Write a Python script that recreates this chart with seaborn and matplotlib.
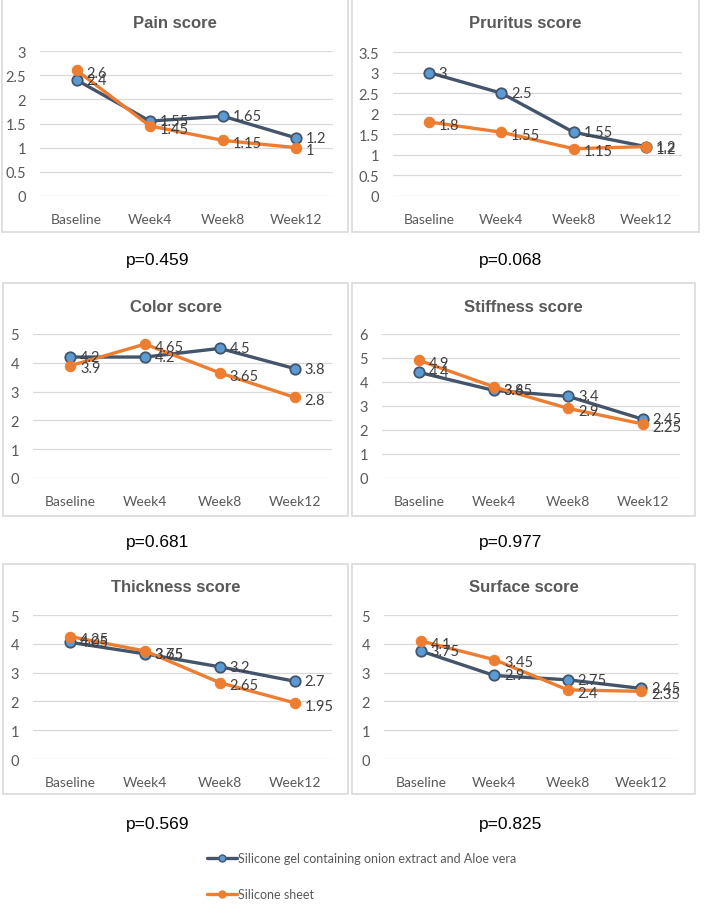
import matplotlib
matplotlib.use("Agg")
import matplotlib.pyplot as plt
import seaborn as sns
from matplotlib.patches import Rectangle
from matplotlib.lines import Line2D

visits = ["Baseline", "Week4", "Week8", "Week12"]
groups = ["Silicone gel containing onion extract and Aloe vera", "Silicone sheet"]

titles = ["Pain score", "Pruritus score", "Color score",
          "Stiffness score", "Thickness score", "Surface score"]
p_values = ["p=0.459", "p=0.068", "p=0.681", "p=0.977", "p=0.569", "p=0.825"]

gel_pain = [2.4, 1.55, 1.65, 1.2]
sheet_pain = [2.6, 1.45, 1.15, 1]
gel_pruritus = [3, 2.5, 1.55, 1.2]
sheet_pruritus = [1.8, 1.55, 1.15, 1.2]
gel_color = [4.2, 4.2, 4.5, 3.8]
sheet_color = [3.9, 4.65, 3.65, 2.8]
gel_stiffness = [4.4, 3.65, 3.4, 2.45]
sheet_stiffness = [4.9, 3.8, 2.9, 2.25]
gel_thickness = [4.05, 3.65, 3.2, 2.7]
sheet_thickness = [4.25, 3.75, 2.65, 1.95]
gel_surface = [3.75, 2.9, 2.75, 2.45]
sheet_surface = [4.1, 3.45, 2.4, 2.35]

gel_series = [gel_pain, gel_pruritus, gel_color, gel_stiffness, gel_thickness, gel_surface]
sheet_series = [sheet_pain, sheet_pruritus, sheet_color, sheet_stiffness, sheet_thickness, sheet_surface]
y_max = [3, 3.5, 5, 6, 5, 5]
y_step = [0.5, 0.5, 1, 1, 1, 1]

sns.set_theme(style="white")
plt.rcParams["font.family"] = ["Lato", "DejaVu Sans"]

W, H = 709, 912
fig = plt.figure(figsize=(W / 100, H / 100), dpi=100)

NAVY = "#44546A"
LIGHT_BLUE = "#5B9BD5"
ORANGE = "#ED7D31"
GRAY = "#595959"


def fbox(x0, y0, x1, y1):
    # pixel box (top-left origin) -> figure fraction rect
    return [x0 / W, 1 - y1 / H, (x1 - x0) / W, (y1 - y0) / H]


# panel frame, plot area, title y, p-value (x, y)
panels = [
    ((2, 0, 348, 233), (40, 52, 333, 197), 23, (158, 260)),
    ((352, 0, 699, 233), (393, 53, 682, 197), 23, (511, 260)),
    ((3, 284, 348, 517), (33, 335, 332, 479), 307, (158, 543)),
    ((352, 284, 695, 517), (382, 335, 680, 479), 307, (511, 543)),
    ((3, 565, 348, 795), (33, 616, 332, 760), 588, (158, 825)),
    ((352, 565, 695, 795), (384, 616, 678, 760), 588, (511, 825)),
]

for i, (frame, area, ty, (px, py)) in enumerate(panels):
    fx0, fy0, fx1, fy1 = frame
    fig.patches.append(Rectangle((fx0 / W, 1 - fy1 / H), (fx1 - fx0) / W, (fy1 - fy0) / H,
                                 transform=fig.transFigure, fill=False,
                                 edgecolor="#D9D9D9", linewidth=1.2))
    ax = fig.add_axes(fbox(*area))
    sns.lineplot(x=visits, y=gel_series[i], ax=ax, color=NAVY, linewidth=2.4,
                 marker="o", markersize=7.5, markerfacecolor=LIGHT_BLUE,
                 markeredgecolor=NAVY, markeredgewidth=1.3, sort=False, zorder=3)
    sns.lineplot(x=visits, y=sheet_series[i], ax=ax, color=ORANGE, linewidth=2.4,
                 marker="o", markersize=7.5, markerfacecolor=ORANGE,
                 markeredgecolor=ORANGE, sort=False, zorder=4)
    for j, v in enumerate(gel_series[i]):
        ax.annotate(f"{v:g}", (j, v), xytext=(7, 0), textcoords="offset points",
                    va="center", ha="left", fontsize=10.5, color="#404040", zorder=5)
    for j, v in enumerate(sheet_series[i]):
        ax.annotate(f"{v:g}", (j, v), xytext=(7, -2), textcoords="offset points",
                    va="center", ha="left", fontsize=10.5, color="#404040", zorder=5)

    ax.set_xlim(-0.5, 3.5)
    ax.set_ylim(0, y_max[i])
    n = int(round(y_max[i] / y_step[i]))
    ticks = [k * y_step[i] for k in range(n + 1)]
    ax.set_yticks(ticks)
    ax.set_yticklabels([f"{t:g}" for t in ticks])
    for t in ticks:
        ax.axhline(t, color="#D9D9D9", linewidth=0.9, zorder=0)
    for s in ax.spines.values():
        s.set_visible(False)
    ax.tick_params(axis="both", length=0, labelsize=10, colors=GRAY)
    ax.tick_params(axis="y", labelsize=10.5)
    ax.tick_params(axis="x", pad=12)
    ax.tick_params(axis="y", pad=10)
    ax.set_xlabel("")
    ax.set_ylabel("")
    if ax.get_legend():
        ax.get_legend().remove()

    cx = (fx0 + fx1) / 2
    fig.text(cx / W, 1 - ty / H, titles[i], ha="center", va="center",
             fontsize=12, fontweight="bold", color=GRAY, family="Liberation Sans")
    fig.text(px / W, 1 - py / H, p_values[i], ha="center", va="center",
             fontsize=12.5, color="black", family="Liberation Sans")

# legend
leg_ax = fig.add_axes([0, 0, 1, 1], facecolor="none")
leg_ax.set_axis_off()
handles = [
    Line2D([], [], color=NAVY, linewidth=2.4, marker="o", markersize=5,
           markerfacecolor=LIGHT_BLUE, markeredgecolor=NAVY),
    Line2D([], [], color=ORANGE, linewidth=2.4, marker="o", markersize=5,
           markerfacecolor=ORANGE, markeredgecolor=ORANGE),
]
leg = leg_ax.legend(handles, groups, loc="upper left",
                    bbox_to_anchor=(196 / W, 1 - 842 / H), frameon=False,
                    handlelength=2.4, handletextpad=0.1, labelspacing=1.9,
                    fontsize=9, labelcolor=GRAY)

fig.savefig("out.png", dpi=100)
